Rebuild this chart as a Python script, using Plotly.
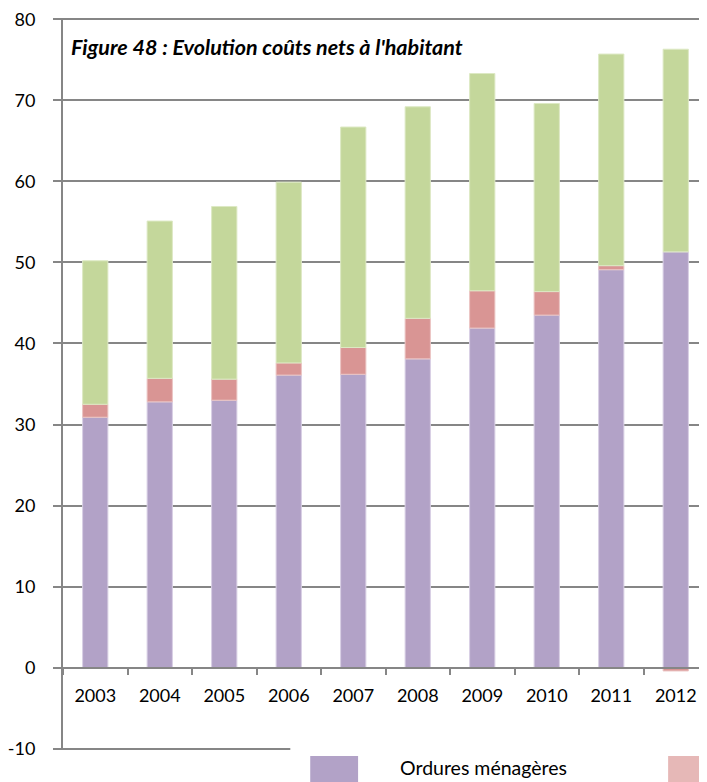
import plotly.graph_objects as go

years = ["2003", "2004", "2005", "2006", "2007", "2008", "2009", "2010", "2011", "2012"]
ordures_menageres = [30.9, 32.8, 33.0, 36.1, 36.2, 38.1, 41.9, 43.5, 49.1, 51.3]
collectes_selectives = [1.6, 2.9, 2.6, 1.5, 3.3, 5.0, 4.6, 2.9, 0.5, -0.4]
decheteries = [17.7, 19.4, 21.3, 22.3, 27.2, 26.1, 26.8, 23.2, 26.1, 25.0]
series_names = ["Ordures ménagères", "Collectes sélectives", "Déchèteries"]
title_text = "Figure 48 : Evolution coûts nets à l'habitant"
y_ticks = [-10, 0, 10, 20, 30, 40, 50, 60, 70, 80]
y_tick_labels = ["-10", "0", "10", "20", "30", "40", "50", "60", "70", "80"]

colors = ["#B2A2C7", "#D99594", "#C4D79B"]
edge_colors = ["#D8CFE4", "#EBC4C3", "#DDE9C4"]
legend_red = "#E6B8B7"
grid = "#868686"
FONT = "Lato"

# the page body has an 8 px default margin, so the figure starts at (8, 8) in the window
OFF = 8
W, H = 700, 774
ML, MR, MT, MB = 53, 0, 10, 32
PW, PH = W - ML - MR, H - MT - MB

# small padding so the end gridlines (-10 and 80) are not clipped by plotly
Y0, Y1 = y_ticks[0] - 0.15, y_ticks[-1] + 0.15


def px(x):
    """window x pixel -> paper fraction"""
    return (x - OFF - ML) / PW


def py(y):
    """window y pixel -> paper fraction"""
    return (H - MB - (y - OFF)) / PH


fig = go.Figure()
for name, vals, c, ec in zip(series_names, [ordures_menageres, collectes_selectives, decheteries], colors, edge_colors):
    fig.add_trace(go.Bar(x=years, y=vals, name=name, marker=dict(color=c, line=dict(color=ec, width=1)),
                         showlegend=False))

shapes = [
    # legend background
    dict(type="rect", xref="paper", yref="paper", x0=px(289), x1=px(720), y0=py(744), y1=py(800),
         fillcolor="white", line=dict(width=0), layer="above"),
    dict(type="rect", xref="paper", yref="paper", x0=px(309), x1=px(357), y0=py(756), y1=py(800),
         fillcolor=colors[0], line=dict(width=0), layer="above"),
    dict(type="rect", xref="paper", yref="paper", x0=px(668), x1=px(720), y0=py(756), y1=py(800),
         fillcolor=legend_red, line=dict(width=0), layer="above"),
]
annotations = [
    dict(text=title_text, xref="paper", yref="paper", x=px(67), y=py(47), xanchor="left", yanchor="middle",
         showarrow=False, font=dict(family=FONT, size=21.5, color="black", weight="bold", style="italic")),
    dict(text=series_names[0], xref="paper", yref="paper", x=px(397), y=py(768), xanchor="left", yanchor="middle",
         showarrow=False, font=dict(family=FONT, size=19.5, color="black")),
]

fig.update_layout(
    width=W, height=H,
    margin=dict(l=ML, r=MR, t=MT, b=MB, pad=0),
    paper_bgcolor="white", plot_bgcolor="white",
    barmode="relative", bargap=0.608,
    font=dict(family=FONT, size=18, color="black"),
    shapes=shapes, annotations=annotations,
    xaxis=dict(type="category", range=[-0.5, 9.5], anchor="free", position=(0 - Y0) / (Y1 - Y0),
               showline=True, linecolor=grid, linewidth=2, showgrid=False,
               ticks="outside", tickson="boundaries", ticklen=6, tickwidth=2, tickcolor=grid,
               ticklabelstandoff=12, tickfont=dict(family=FONT, size=18, color="black")),
    yaxis=dict(range=[Y0, Y1], tickvals=y_ticks, ticktext=y_tick_labels, showline=True, linecolor=grid,
               linewidth=2, showgrid=True, gridcolor=grid, gridwidth=2, zeroline=False,
               ticks="outside", ticklen=8, tickwidth=2, tickcolor=grid, ticklabeloverflow="allow",
               ticklabelstandoff=14, tickfont=dict(family=FONT, size=18, color="black")),
)

fig.write_html("out.html")
